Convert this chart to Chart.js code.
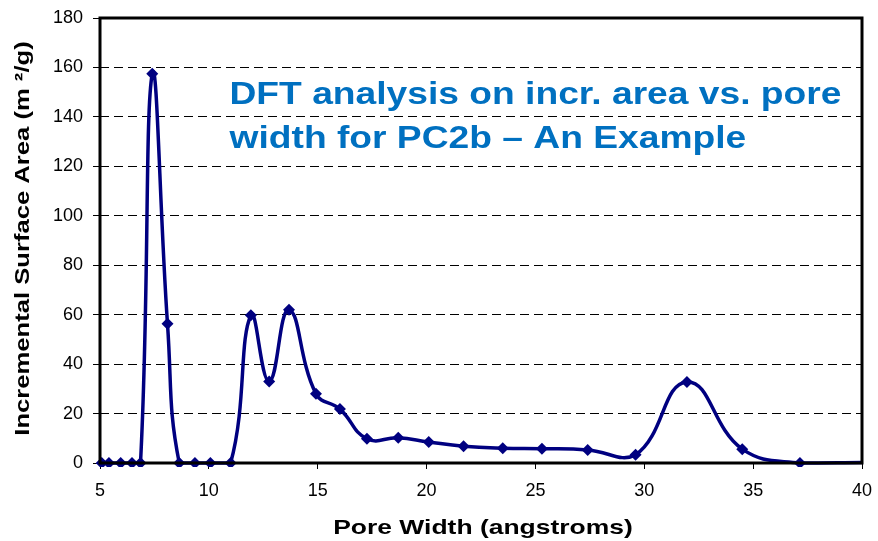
<!DOCTYPE html>
<html>
<head>
<meta charset="utf-8">
<script src="https://cdn.jsdelivr.net/npm/chart.js@4.4.1/dist/chart.umd.min.js"></script>
<style>
  html, body { margin: 0; padding: 0; background: #fff; }
  #wrap { width: 878px; height: 541px; position: relative; }
</style>
</head>
<body>
<div id="wrap"><canvas id="c" width="878" height="541"></canvas></div>
<script>
// Pore width (angstroms)
const poreWidth = [5.08, 5.41, 5.95, 6.47, 6.86, 7.40, 8.10, 8.64, 9.36, 10.07, 11.0, 11.93, 12.77, 13.68, 14.92, 16.02, 17.26, 18.70, 20.10, 21.70, 23.50, 25.30, 27.40, 29.60, 31.96, 34.50, 37.15, 40.0];
// Incremental surface area (m2/g)
const incrArea = [0, 0, 0, 0, 0, 157.4, 56.3, 0, 0, 0, 0, 59.8, 33.0, 62.0, 28.0, 21.8, 9.8, 10.2, 8.5, 6.8, 6.0, 5.8, 5.3, 3.3, 32.8, 5.6, 0, 0.2];
// marker shown for each point (last point is only a line continuation)
const showMarker = [1,1,1,1,1,1,1,1,1,1,1,1,1,1,1,1,1,1,1,1,1,1,1,1,1,1,1,0];

const yTicks = [0, 20, 40, 60, 80, 100, 120, 140, 160, 180];
const xTicks = [5, 10, 15, 20, 25, 30, 35, 40];
const titleLines = ["DFT analysis on incr. area vs. pore", "width for PC2b \u2013 An Example"];
const xTitle = "Pore Width (angstroms)";
const yTitle = "Incremental Surface Area (m \u00B2/g)";

const FONT = "'Liberation Sans', Arial, sans-serif";

const points = poreWidth.map((x, i) => ({ x: x, y: incrArea[i] }));

function stretchedText(ctx, text, x, y, sx, align, rot) {
  ctx.save();
  ctx.translate(x, y);
  if (rot) ctx.rotate(rot);
  ctx.scale(sx, 1);
  ctx.textAlign = align;
  ctx.fillText(text, 0, 0);
  ctx.restore();
}

const framePlugin = {
  id: 'frame',
  afterDraw(chart) {
    const { ctx, chartArea: a } = chart;
    ctx.save();
    ctx.strokeStyle = '#000';
    ctx.lineWidth = 3;
    ctx.strokeRect(a.left, a.top, a.right - a.left, a.bottom - a.top);

    // annotation title inside the plot
    ctx.fillStyle = '#0070C0';
    ctx.font = "bold 31px " + FONT;
    ctx.textBaseline = 'alphabetic';
    stretchedText(ctx, titleLines[0], a.left + 129.5, a.top + 86, 1.2, 'left');
    stretchedText(ctx, titleLines[1], a.left + 129.5, a.top + 130, 1.2, 'left');

    // axis titles
    ctx.fillStyle = '#000';
    ctx.font = "bold 21px " + FONT;
    const cx = (a.left + a.right) / 2 + 2;
    stretchedText(ctx, xTitle, cx, 534, 1.26, 'center');
    const cy = (a.top + a.bottom) / 2;
    ctx.textBaseline = 'middle';
    stretchedText(ctx, yTitle, 23, cy - 2, 1.22, 'center', -Math.PI / 2);
    ctx.restore();
  }
};

new Chart(document.getElementById('c'), {
  type: 'scatter',
  data: {
    datasets: [{
      data: points,
      showLine: true,
      borderColor: '#000080',
      backgroundColor: '#000080',
      borderWidth: 3.5,
      tension: 0.45,
      pointStyle: 'rectRot',
      pointRadius: showMarker.map(m => m ? 6 : 0),
      pointHoverRadius: 6,
      pointBorderWidth: 0,
      clip: 4
    }]
  },
  options: {
    responsive: false,
    animation: false,
    events: [],
    layout: { padding: { left: 0, top: 18, right: 16, bottom: 0 } },
    plugins: { legend: { display: false }, tooltip: { enabled: false } },
    scales: {
      x: {
        type: 'linear',
        min: 5, max: 40,
        afterBuildTicks(s) { s.ticks = xTicks.map(v => ({ value: v })); },
        afterFit(s) { s.height = 78; s.paddingLeft = 0; s.paddingRight = 0; },
        grid: { drawOnChartArea: false, drawTicks: true, tickLength: 6, color: '#000', lineWidth: 1 },
        border: { display: false },
        ticks: { color: '#000', font: { family: FONT, size: 18 }, padding: 11, maxRotation: 0 },
        title: { display: false }
      },
      y: {
        type: 'linear',
        min: 0, max: 180,
        afterBuildTicks(s) { s.ticks = yTicks.map(v => ({ value: v })); },
        afterFit(s) { s.width = 100; s.paddingTop = 0; s.paddingBottom = 0; },
        grid: { drawTicks: true, tickLength: 7, color: '#000', lineWidth: 1, borderDash: [9, 5], tickBorderDash: [] },
        border: { display: false, dash: [9, 5] },
        ticks: { color: '#000', font: { family: FONT, size: 18 }, padding: 10 },
        title: { display: false }
      }
    }
  },
  plugins: [framePlugin]
});
</script>
</body>
</html>
